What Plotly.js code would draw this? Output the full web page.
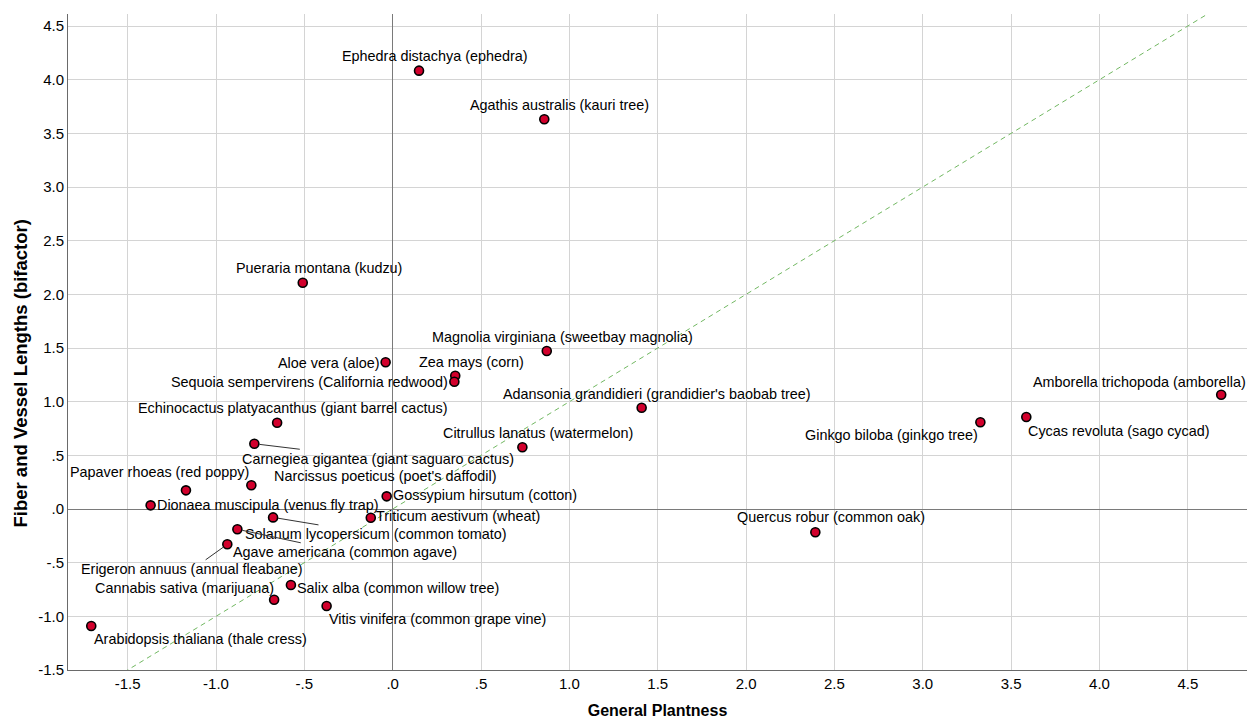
<!DOCTYPE html>
<html>
<head>
<meta charset="utf-8">
<script src="https://cdn.plot.ly/plotly-3.0.1.min.js"></script>
<style>html,body{margin:0;padding:0;background:#fff;}#chart{width:1247px;height:719px;}</style>
</head>
<body>
<div id="chart"></div>
<script>
// ---- data ----
const plantNames = [
  "Ephedra distachya (ephedra)",
  "Agathis australis (kauri tree)",
  "Pueraria montana (kudzu)",
  "Magnolia virginiana (sweetbay magnolia)",
  "Aloe vera (aloe)",
  "Zea mays (corn)",
  "Sequoia sempervirens (California redwood)",
  "Adansonia grandidieri (grandidier's baobab tree)",
  "Echinocactus platyacanthus (giant barrel cactus)",
  "Citrullus lanatus (watermelon)",
  "Carnegiea gigantea (giant saguaro cactus)",
  "Papaver rhoeas (red poppy)",
  "Narcissus poeticus (poet's daffodil)",
  "Dionaea muscipula (venus fly trap)",
  "Gossypium hirsutum (cotton)",
  "Triticum aestivum (wheat)",
  "Solanum lycopersicum (common tomato)",
  "Agave americana (common agave)",
  "Erigeron annuus (annual fleabane)",
  "Cannabis sativa (marijuana)",
  "Salix alba (common willow tree)",
  "Vitis vinifera (common grape vine)",
  "Arabidopsis thaliana (thale cress)",
  "Quercus robur (common oak)",
  "Ginkgo biloba (ginkgo tree)",
  "Cycas revoluta (sago cycad)",
  "Amborella trichopoda (amborella)"
];
const generalPlantness = [
  0.149, 0.858, -0.509, 0.872, -0.040, 0.354, 0.349, 1.409, -0.654, 0.734,
  -0.783, -1.170, -0.800, -1.370, -0.034, -0.124, -0.677, -0.879, -0.936, -0.671,
  -0.576, -0.374, -1.706, 2.392, 3.326, 3.586, 4.689
];
const fiberVesselLengths = [
  4.084, 3.631, 2.108, 1.472, 1.367, 1.242, 1.186, 0.944, 0.804, 0.575,
  0.608, 0.174, 0.221, 0.034, 0.118, -0.081, -0.078, -0.189, -0.329, -0.845,
  -0.708, -0.904, -1.090, -0.217, 0.808, 0.857, 1.065
];
const referenceLine = [-2, 5];   // y = x diagonal
const xTickVals = [-1.5, -1.0, -0.5, 0, 0.5, 1.0, 1.5, 2.0, 2.5, 3.0, 3.5, 4.0, 4.5];
const xTickText = ["-1.5", "-1.0", "-.5", ".0", ".5", "1.0", "1.5", "2.0", "2.5", "3.0", "3.5", "4.0", "4.5"];
const yTickVals = [-1.5, -1.0, -0.5, 0, 0.5, 1.0, 1.5, 2.0, 2.5, 3.0, 3.5, 4.0, 4.5];
const yTickText = ["-1.5", "-1.0", "-.5", ".0", ".5", "1.0", "1.5", "2.0", "2.5", "3.0", "3.5", "4.0", "4.5"];

// ---- label placement (pixel offsets from each point; dy positive = down) ----
const labelPlacement = [
  ["center", 16, -15, false], ["center", 15, -14, false], ["center", 16, -15, false],
  ["center", 16, -14, false], ["right", -4, 1, false], ["center", 16, -14, false],
  ["right", -4, 0, false], ["center", 15, -14, false], ["center", 16, -15, false],
  ["center", 16, -14, false], ["arrow", 124, 15, true], ["center", -26, -18, false],
  ["center", 134, -9, false], ["left", 4, 0, false], ["left", 4, -1, false],
  ["left", 3, -2, false], ["arrow", 103, 17, true], ["arrow", 108, 23, true],
  ["arrow", -35, 25, true], ["center", -90, -12, false], ["left", 4, 3, false],
  ["left", 0, 13, false], ["left", 1, 13, false], ["center", 16, -15, false],
  ["right", 0, 13, false], ["left", 0, 14, false], ["right", 27, -13, false]
];

const FONT = "Liberation Sans, Arial, sans-serif";

const annotations = plantNames.map((name, i) => {
  const [mode, dx, dy, arrow] = labelPlacement[i];
  const a = {
    x: generalPlantness[i], y: fiberVesselLengths[i], xref: "x", yref: "y",
    text: name, font: {family: FONT, size: 14.4, color: "#000"}
  };
  if (arrow) {
    Object.assign(a, {showarrow: true, ax: dx, ay: dy, arrowhead: 0, arrowwidth: 1,
      arrowcolor: "#333", standoff: 5, xanchor: "center", yanchor: "middle"});
  } else {
    Object.assign(a, {showarrow: false, xanchor: mode, yanchor: "middle",
      xshift: dx, yshift: -dy});
  }
  return a;
});

annotations.push({
  xref: "paper", yref: "paper", x: -0.0407, y: 0.452, textangle: -90,
  text: "<b>Fiber and Vessel Lengths (bifactor)</b>", showarrow: false,
  xanchor: "center", yanchor: "middle",
  font: {family: FONT, size: 18.5, color: "#000"}
});

const traces = [
  {
    x: referenceLine, y: referenceLine, mode: "lines", type: "scatter",
    line: {color: "#72b862", width: 1, dash: "5px,4px"}, hoverinfo: "skip", showlegend: false
  },
  {
    x: generalPlantness, y: fiberVesselLengths, text: plantNames, mode: "markers", type: "scatter",
    marker: {size: 9, color: "#d2002c", line: {color: "#000", width: 1.6}},
    showlegend: false, cliponaxis: false
  }
];

const layout = {
  width: 1247, height: 719,
  margin: {l: 68, r: 0, t: 14, b: 49},
  paper_bgcolor: "#fff", plot_bgcolor: "#fff",
  font: {family: FONT, size: 15, color: "#000"},
  showlegend: false,
  xaxis: {
    range: [-1.8376, 4.835], tickvals: xTickVals, ticktext: xTickText,
    showgrid: true, gridcolor: "#d4d4d4", gridwidth: 1,
    zeroline: true, zerolinecolor: "#7a7a7a", zerolinewidth: 1,
    showline: true, linecolor: "#6a6a6a", linewidth: 1, ticks: "",
    tickfont: {family: FONT, size: 15, color: "#000"},
    title: {text: "<b>General Plantness</b>", font: {family: FONT, size: 16, color: "#000"}, standoff: 14}
  },
  yaxis: {
    range: [-1.5, 4.612], tickvals: yTickVals, ticktext: yTickText,
    showgrid: true, gridcolor: "#d4d4d4", gridwidth: 1,
    zeroline: true, zerolinecolor: "#7a7a7a", zerolinewidth: 1,
    showline: true, linecolor: "#6a6a6a", linewidth: 1, ticks: "",
    tickfont: {family: FONT, size: 15, color: "#000"}
  },
  annotations: annotations
};

Plotly.newPlot("chart", traces, layout, {displayModeBar: false, staticPlot: true});
</script>
</body>
</html>
